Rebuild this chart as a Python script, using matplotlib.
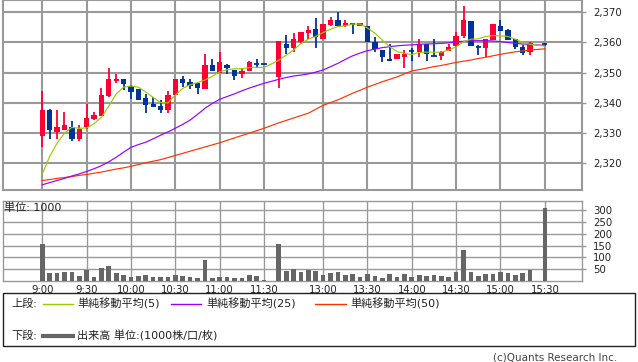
import matplotlib
matplotlib.use("Agg")
import matplotlib.pyplot as plt
from matplotlib.patches import Rectangle
from matplotlib.lines import Line2D
import numpy as np

plt.rcParams['font.family'] = ['DejaVu Sans', 'Noto Sans CJK JP']

# ---- data (5-minute slots, slot 0 = 9:00; None = no trade) ----
tick_slots = [0, 6, 12, 18, 24, 30, 38, 44, 50, 56, 62, 68]
tick_labels = ["9:00", "9:30", "10:00", "10:30", "11:00", "11:30",
               "13:00", "13:30", "14:00", "14:30", "15:00", "15:30"]

opens = [2329.2, 2337.7, 2330.2, 2330.9, 2332.1, 2327.9, 2331.9, 2334.8, 2335.8, 2342.3,
         2347.3, 2347.8, 2345.6, 2344.6, 2341.6, 2339.6, 2339.0, 2337.5, 2342.7, 2347.9,
         2347.0, 2346.5, 2344.6, 2352.6, 2349.8, 2352.6, 2350.9, 2349.5, 2350.7, 2352.9,
         2352.9, None, 2348.6, 2359.6, 2358.3, 2360.1, 2363.3, 2364.4, 2361.0, 2365.8,
         2367.5, 2365.5, 2366.4, 2365.3, 2365.5, 2360.0, 2357.5, 2354.6, 2354.5, 2355.3,
         2357.1, 2356.7, 2359.4, 2355.4, 2355.4, 2357.1, 2359.0, 2362.2, 2367.1, 2358.7,
         2358.3, 2360.8, 2365.5, 2364.2, 2361.2, 2358.4, 2357.0, None, 2359.5]
highs = [2343.8, 2338.0, 2337.7, 2337.0, 2334.1, 2332.7, 2339.7, 2337.0, 2345.0, 2351.6,
         2349.6, 2347.8, 2346.0, 2344.6, 2342.9, 2341.8, 2340.8, 2344.1, 2347.9, 2348.9,
         2347.9, 2346.5, 2356.2, 2354.5, 2356.7, 2352.9, 2350.9, 2351.6, 2353.9, 2354.5,
         2352.9, None, 2360.5, 2362.5, 2363.1, 2363.5, 2365.3, 2368.0, 2366.1, 2368.3,
         2370.0, 2367.5, 2366.4, 2366.4, 2365.5, 2361.7, 2357.5, 2359.5, 2356.2, 2357.5,
         2358.1, 2361.1, 2359.4, 2361.2, 2357.2, 2359.5, 2363.5, 2372.2, 2367.1, 2359.2,
         2361.2, 2366.1, 2367.5, 2364.6, 2361.2, 2359.2, 2360.1, None, 2359.8]
lows = [2325.3, 2328.2, 2328.2, 2330.9, 2327.3, 2327.3, 2331.4, 2334.4, 2335.6, 2342.1,
        2346.5, 2344.3, 2341.2, 2340.8, 2336.8, 2338.7, 2336.5, 2336.8, 2342.7, 2345.4,
        2344.5, 2342.8, 2344.6, 2350.4, 2349.8, 2349.6, 2347.7, 2348.4, 2350.7, 2351.7,
        2352.9, None, 2344.8, 2356.2, 2356.7, 2359.4, 2361.2, 2358.3, 2361.0, 2365.3,
        2365.3, 2365.0, 2362.9, 2365.3, 2360.0, 2356.8, 2353.4, 2354.0, 2354.5, 2351.4,
        2353.9, 2355.3, 2353.9, 2355.4, 2354.2, 2357.1, 2358.6, 2361.4, 2359.0, 2355.9,
        2355.1, 2360.8, 2363.9, 2360.8, 2358.0, 2355.9, 2355.9, None, 2359.0]
closes = [2337.7, 2330.9, 2332.1, 2332.7, 2327.9, 2331.2, 2335.0, 2336.0, 2342.7, 2347.8,
          2347.8, 2346.4, 2343.6, 2340.8, 2339.3, 2338.7, 2337.7, 2342.7, 2347.9, 2346.7,
          2345.6, 2344.8, 2352.6, 2350.4, 2353.6, 2351.4, 2348.8, 2350.6, 2353.6, 2352.8,
          2352.9, None, 2360.5, 2358.3, 2361.2, 2363.5, 2364.2, 2361.7, 2366.1, 2367.5,
          2365.3, 2366.6, 2366.1, 2366.4, 2360.0, 2357.8, 2355.3, 2354.0, 2356.2, 2356.1,
          2357.0, 2359.4, 2356.1, 2355.4, 2356.7, 2358.5, 2362.2, 2367.5, 2359.0, 2358.6,
          2361.2, 2366.1, 2363.9, 2360.8, 2358.4, 2356.4, 2359.7, None, 2359.5]

ma5 = [2316.5, 2322.3, 2326.7, 2330.0, 2331.9, 2331.6, 2331.7, 2333.1, 2335.2, 2339.0,
       2343.0, 2345.2, 2345.6, 2345.2, 2343.6, 2341.8, 2340.1, 2340.0, 2342.6, 2344.8,
       2346.0, 2346.7, 2347.6, 2348.8, 2350.3, 2351.0, 2351.3, 2351.3, 2351.7, 2351.8,
       2351.7, None, 2354.1, 2355.8, 2357.5, 2359.7, 2361.1, 2362.0, 2363.3, 2364.4,
       2365.3, 2365.5, 2366.1, 2366.1, 2364.8, 2363.1, 2360.8, 2358.6, 2357.0, 2356.4,
       2356.0, 2356.7, 2356.8, 2356.8, 2356.8, 2357.5, 2358.6, 2360.2, 2361.1, 2361.2,
       2362.0, 2362.3, 2362.2, 2362.0, 2361.1, 2360.0, 2359.4, None, 2358.8]
ma25 = [2312.9, 2313.6, 2314.3, 2315.0, 2315.8, 2316.5, 2317.3, 2318.2, 2319.2, 2320.5,
        2322.0, 2323.7, 2325.3, 2326.2, 2327.0, 2328.1, 2329.3, 2330.4, 2331.6, 2332.9,
        2334.3, 2336.2, 2338.2, 2339.8, 2341.2, 2342.1, 2343.0, 2344.0, 2344.9, 2345.7,
        2346.5, None, 2347.8, 2348.4, 2348.9, 2349.2, 2349.6, 2350.2, 2350.9, 2352.0,
        2353.1, 2354.4, 2355.6, 2356.5, 2357.3, 2357.8, 2358.3, 2358.6, 2358.9, 2359.1,
        2359.2, 2359.4, 2359.5, 2359.6, 2359.7, 2359.9, 2360.2, 2360.4, 2360.6, 2360.6,
        2360.6, 2360.5, 2360.3, 2360.0, 2359.7, 2359.5, 2359.4, None, 2359.0]
ma50 = [2314.3, 2314.6, 2315.0, 2315.3, 2315.6, 2316.0, 2316.3, 2316.7, 2317.1, 2317.6,
        2318.1, 2318.5, 2319.0, 2319.6, 2320.2, 2320.7, 2321.2, 2321.9, 2322.6, 2323.3,
        2324.0, 2324.7, 2325.4, 2326.1, 2326.8, 2327.6, 2328.4, 2329.2, 2330.0, 2330.8,
        2331.6, None, 2333.4, 2334.2, 2335.0, 2335.8, 2336.6, 2337.9, 2339.2, 2340.1,
        2341.0, 2342.1, 2343.2, 2344.2, 2345.2, 2346.1, 2347.0, 2347.8, 2348.6, 2349.6,
        2350.6, 2351.0, 2351.5, 2352.0, 2352.4, 2352.9, 2353.4, 2353.8, 2354.2, 2354.7,
        2355.1, 2355.6, 2356.1, 2356.5, 2356.9, 2357.2, 2357.5, None, 2357.9]

volumes = [156, 35, 35, 39, 39, 21, 47, 17, 54, 63,
           35, 25, 17, 21, 25, 17, 17, 17, 25, 21,
           17, 13, 88, 13, 17, 17, 13, 13, 24, 21,
           4, 0, 156, 43, 50, 39, 46, 43, 25, 35,
           39, 25, 29, 17, 29, 21, 13, 29, 17, 29,
           17, 25, 21, 25, 21, 17, 39, 130, 39, 21,
           29, 29, 39, 35, 25, 35, 47, 0, 312]

price_ticks = [2320, 2330, 2340, 2350, 2360, 2370]
vol_ticks = [50, 100, 150, 200, 250, 300]

# ---- styling ----
UP = '#ff0033'
DOWN = '#003399'
GRID = '#999999'
W, H = 638, 362

fig = plt.figure(figsize=(W / 100, H / 100), dpi=100)

def fx(px):
    return px / W

def fy(py):
    return 1 - py / H

# price panel
ax = fig.add_axes([fx(3), fy(190), fx(579), 190 / H])
n = len(opens)
xlim = (-5.32, 73.03)
for k in range(n):
    o, h, l, c = opens[k], highs[k], lows[k], closes[k]
    if o is None:
        continue
    col = UP if c > o else DOWN
    ax.vlines(k, l, h, color=col, lw=1.3, zorder=3)
    body = abs(c - o)
    if body < 0.4:
        ax.hlines((o + c) / 2, k - 0.36, k + 0.36, color=col, lw=1.3, zorder=4)
    else:
        ax.bar(k, body, bottom=min(o, c), width=0.72, color=col, lw=0, zorder=4)

for ma, col in [(ma50, '#ff3300'), (ma25, '#9900ff'), (ma5, '#99cc00')]:
    xs = [k for k in range(n) if ma[k] is not None]
    ys = [ma[k] for k in xs]
    ax.plot(xs, ys, color=col, lw=0.85, zorder=5)

ax.set_xlim(*xlim)
ax.set_ylim(2311.16, 2374.07)
ax.set_xticks(tick_slots)
ax.set_yticks(price_ticks)
ax.set_yticklabels([f"{v:,}" for v in price_ticks])
ax.yaxis.tick_right()
ax.tick_params(axis='y', length=3, width=1, color=GRID, pad=5, labelsize=7.3,
               labelcolor='#222222')
ax.tick_params(axis='x', length=0, labelbottom=False)
ax.grid(True, color=GRID, lw=1.5)
ax.set_axisbelow(True)
for s in ax.spines.values():
    s.set_color(GRID)
    s.set_linewidth(1.5)

# volume panel
av = fig.add_axes([fx(3), fy(281), fx(579), 80 / H])
vx = [k for k in range(n) if volumes[k] > 0]
av.bar(vx, [volumes[k] for k in vx], width=0.63, color='#666666', lw=0, zorder=3)
av.set_xlim(*xlim)
av.set_ylim(0, 340)
av.set_xticks(tick_slots)
av.set_xticklabels(tick_labels)
av.set_yticks(vol_ticks)
av.yaxis.tick_right()
av.tick_params(axis='y', length=3, width=1, color=GRID, pad=5, labelsize=7.3,
               labelcolor='#222222')
av.tick_params(axis='x', length=0, pad=3, labelsize=7.3, labelcolor='#222222')
av.grid(True, color=GRID, lw=1.0)
av.set_axisbelow(True)
for s in av.spines.values():
    s.set_color(GRID)
    s.set_linewidth(1.0)

# overlay for texts / legend in pixel coordinates
ov = fig.add_axes([0, 0, 1, 1], facecolor='none')
ov.set_xlim(0, W)
ov.set_ylim(H, 0)
ov.axis('off')

ov.text(4, 208, "単位: 1000", fontsize=8, va='center', ha='left', color='#222222')

ov.add_patch(Rectangle((3, 293), 632, 53, fill=False, ec='#222222', lw=1.0))
ov.text(11, 304, "上段:", fontsize=8, va='center', ha='left', color='#222222')
ov.text(11, 336, "下段:", fontsize=8, va='center', ha='left', color='#222222')
leg = [(43, 73, '#99cc00', 77, "単純移動平均(5)"),
       (171, 201, '#9900ff', 206, "単純移動平均(25)"),
       (315, 346, '#ff3300', 350, "単純移動平均(50)")]
for x0, x1, col, tx, label in leg:
    ov.add_line(Line2D([x0, x1], [304, 304], color=col, lw=1.0))
    ov.text(tx, 304, label, fontsize=8, va='center', ha='left', color='#222222')
ov.add_line(Line2D([43, 73], [336, 336], color='#666666', lw=3.0))
ov.text(77, 336, "出来高 単位:(1000株/口/枚)", fontsize=8, va='center', ha='left',
        color='#222222')
ov.text(617, 357, "(c)Quants Research Inc.", fontsize=7.5, va='center', ha='right',
        color='#444444')

fig.savefig("out.png", dpi=100)
